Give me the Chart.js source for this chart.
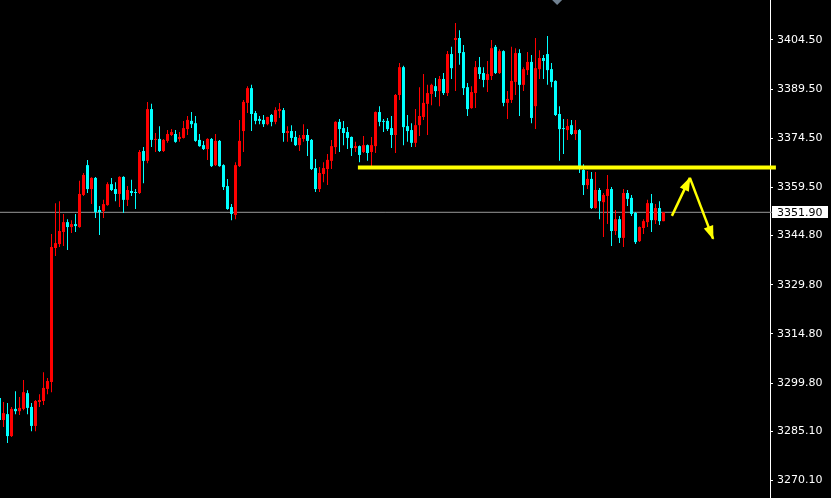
<!DOCTYPE html>
<html>
<head>
<meta charset="utf-8">
<script src="https://cdn.jsdelivr.net/npm/chart.js@4.4.0/dist/chart.umd.min.js"></script>
<style>
html, body { margin: 0; padding: 0; background: #000; }
#wrap { width: 831px; height: 498px; position: relative; }
</style>
</head>
<body>
<div id="wrap"><canvas id="chart"></canvas></div>
<script>
// свечи (старые -> новые)
const opens = [3295.2,3288.5,3290.3,3283.6,3291.9,3291.2,3291.9,3296.7,3292.5,3286.7,3294.0,3294.3,3298.0,3300.1,3341.0,3342.2,3345.9,3348.9,3347.4,3348.3,
3347.4,3357.2,3366.3,3359.0,3362.4,3352.6,3352.3,3354.1,3360.5,3359.0,3357.5,3362.7,3355.7,3358.4,3358.1,3357.8,3370.6,3367.6,3383.4,3374.0,
3374.3,3370.6,3373.7,3375.5,3375.8,3374.3,3374.6,3377.3,3379.8,3379.1,3374.0,3372.4,3371.2,3374.3,3366.3,3373.7,3366.3,3359.9,3353.5,3351.1,
3366.0,3376.7,3385.3,3389.8,3382.2,3380.4,3380.1,3378.8,3381.6,3379.5,3382.8,3383.1,3376.1,3376.7,3374.9,3372.4,3374.3,3375.5,3374.0,3365.4,
3359.0,3363.6,3365.1,3367.6,3371.8,3379.5,3377.6,3376.4,3374.9,3371.5,3372.1,3370.3,3372.4,3370.3,3372.1,3382.5,3379.8,3379.8,3377.6,3375.5,
3387.7,3396.2,3378.2,3377.0,3373.1,3378.5,3381.0,3385.0,3388.0,3390.4,3388.9,3392.6,3388.3,3400.2,3404.5,3405.1,3400.8,3390.1,3383.7,3388.3,
3396.2,3394.4,3392.3,3393.5,3402.4,3394.4,3401.1,3385.3,3386.2,3391.7,3400.5,3390.8,3395.3,3397.8,3384.3,3395.6,3399.0,3400.2,3395.6,3392.0,
3381.9,3377.6,3377.0,3378.5,3375.8,3377.0,3364.8,3360.2,3362.1,3353.2,3358.7,3355.0,3356.9,3359.0,3346.2,3349.8,3344.1,3357.8,3356.3,3351.7,
3343.1,3347.1,3348.9,3354.7,3349.5,3353.2,3349.2];
const highs = [3296.1,3294.0,3293.7,3292.5,3297.3,3295.5,3300.7,3297.6,3293.7,3294.6,3296.4,3303.1,3301.3,3345.3,3354.7,3355.3,3351.4,3349.8,3349.5,3351.4,
3361.5,3363.9,3367.9,3362.6,3362.7,3353.8,3355.7,3361.1,3362.4,3361.1,3362.9,3362.9,3359.9,3361.8,3359.0,3370.9,3371.8,3385.6,3385.0,3376.1,
3378.2,3374.3,3377.0,3377.3,3377.0,3376.4,3379.8,3381.3,3382.5,3381.3,3375.8,3373.7,3374.5,3374.6,3375.8,3374.0,3366.6,3362.1,3354.4,3367.2,
3380.1,3386.2,3390.4,3390.8,3382.8,3381.3,3381.6,3381.1,3381.9,3384.0,3385.3,3383.7,3378.2,3378.5,3376.7,3375.5,3378.8,3377.3,3374.3,3368.2,
3365.7,3367.2,3369.7,3374.0,3379.7,3380.4,3379.8,3377.9,3375.0,3373.4,3372.3,3375.2,3372.6,3374.9,3382.7,3384.3,3380.4,3380.7,3381.3,3388.0,
3397.5,3396.6,3381.6,3379.1,3383.4,3390.1,3394.1,3390.8,3391.1,3392.9,3393.5,3394.4,3401.1,3402.4,3409.7,3407.5,3403.0,3391.4,3390.4,3398.1,
3399.3,3396.2,3398.1,3404.5,3403.0,3401.7,3401.4,3388.9,3402.4,3402.0,3401.7,3396.2,3400.8,3399.9,3405.1,3401.4,3399.9,3405.7,3397.5,3392.2,
3384.3,3380.4,3380.4,3380.1,3380.1,3377.3,3366.6,3364.5,3364.2,3364.2,3359.3,3357.8,3363.3,3359.6,3352.6,3350.8,3359.0,3358.7,3357.2,3352.0,
3347.6,3349.8,3355.7,3357.5,3354.4,3355.3,3351.9];
const lows = [3287.9,3286.4,3281.5,3283.3,3290.3,3290.0,3291.5,3290.3,3285.1,3285.1,3292.5,3293.1,3296.4,3297.0,3338.6,3341.3,3341.6,3340.4,3345.6,3345.9,
3347.2,3356.9,3357.8,3354.4,3350.2,3345.0,3350.2,3353.9,3358.4,3355.3,3353.5,3351.7,3353.8,3356.9,3352.9,3357.5,3360.8,3366.9,3371.8,3370.3,
3370.3,3370.3,3373.1,3375.2,3373.1,3373.4,3374.4,3375.5,3377.6,3373.4,3371.9,3370.9,3367.9,3365.7,3366.0,3365.8,3358.7,3352.7,3349.5,3349.8,
3365.7,3370.3,3382.2,3376.7,3378.8,3378.8,3377.9,3378.5,3378.2,3378.8,3380.7,3373.4,3373.4,3373.4,3372.1,3370.6,3373.4,3369.1,3364.8,3358.1,
3358.1,3361.1,3360.2,3365.1,3369.7,3370.3,3372.4,3371.2,3369.1,3370.3,3367.2,3370.0,3367.6,3365.7,3370.0,3378.2,3376.4,3376.7,3371.5,3370.0,
3386.2,3372.4,3373.4,3371.8,3371.8,3375.2,3380.1,3375.5,3384.6,3387.1,3384.3,3387.7,3387.4,3392.6,3388.9,3396.9,3387.7,3381.3,3383.5,3383.7,
3392.6,3390.1,3388.6,3392.3,3394.1,3394.1,3384.3,3380.4,3385.3,3387.7,3381.3,3388.9,3393.8,3379.1,3377.3,3392.6,3392.6,3390.8,3390.1,3381.3,
3367.6,3369.7,3374.0,3375.5,3374.0,3363.9,3357.2,3359.0,3352.9,3353.0,3349.8,3344.4,3348.3,3341.6,3345.0,3342.5,3341.3,3353.8,3350.8,3342.2,
3342.8,3345.3,3347.4,3345.9,3348.3,3348.0,3349.2];
const closes = [3288.5,3290.6,3283.6,3291.9,3291.2,3292.2,3297.0,3292.2,3286.7,3294.3,3294.6,3298.3,3300.4,3341.3,3342.5,3346.2,3348.9,3347.4,3348.3,3347.7,
3357.5,3363.3,3359.0,3362.4,3352.0,3352.0,3354.4,3360.5,3358.7,3357.5,3362.7,3355.7,3358.7,3357.8,3357.8,3370.3,3367.6,3383.4,3374.0,3374.3,
3370.6,3374.0,3375.8,3376.4,3373.4,3374.9,3377.6,3380.1,3378.8,3373.7,3372.1,3371.2,3374.3,3366.0,3373.7,3366.0,3359.6,3352.9,3351.4,3366.3,
3373.7,3385.6,3389.8,3381.9,3379.8,3379.8,3378.8,3381.0,3379.5,3383.1,3383.4,3376.1,3376.7,3374.6,3372.4,3374.6,3375.5,3373.7,3365.1,3359.0,
3363.9,3365.4,3367.9,3372.1,3379.5,3377.3,3376.1,3374.6,3371.5,3372.1,3369.4,3372.4,3370.0,3372.4,3382.5,3379.5,3379.5,3377.3,3375.5,3387.7,
3396.2,3377.9,3376.7,3373.1,3378.5,3381.3,3385.3,3388.3,3390.8,3388.9,3392.6,3388.3,3400.2,3395.9,3405.1,3400.5,3389.8,3383.4,3388.6,3396.2,
3394.1,3392.3,3394.1,3402.0,3394.4,3401.1,3385.3,3386.5,3392.0,3400.5,3390.8,3395.6,3397.8,3380.7,3395.9,3399.0,3398.1,3395.3,3391.7,3381.6,
3377.3,3377.3,3378.2,3375.8,3377.0,3366.0,3360.2,3362.1,3353.2,3358.7,3355.3,3357.2,3359.0,3346.2,3349.8,3344.1,3357.8,3356.0,3351.4,3342.8,
3347.4,3349.2,3354.7,3349.5,3353.2,3349.2,3351.9];

// шкала цен
const priceTicks = [3404.5, 3389.5, 3374.5, 3359.5, 3344.8, 3329.8, 3314.8, 3299.8, 3285.1, 3270.1];

// разметка: уровень и стрелки (индекс бара, цена)
const levelIdx = [89.6, 194.1];
const levelPrice = [3365.6, 3365.6];
const arrowUpIdx = [168.1, 172.6];
const arrowUpPrice = [3350.8, 3362.4];
const arrowDownIdx = [172.6, 178.4];
const arrowDownPrice = [3362.4, 3343.8];
const shiftMarkIdx = 139.4;

const UP = '#ff0000';
const DOWN = '#00ffff';
const candleColors = opens.map((o, i) => closes[i] >= o ? UP : DOWN);
const lastPrice = closes[closes.length - 1];

const wickData = highs.map((h, i) => ({ x: i, y: [lows[i], h] }));
const bodyData = opens.map((o, i) => ({ x: i, y: [o, closes[i]] }));
const pairs = (xs, ys) => xs.map((x, i) => ({ x: x, y: ys[i] }));

const overlay = {
    id: 'overlay',
    afterDatasetsDraw(chart) {
        const ctx = chart.ctx;
        const xs = chart.scales.x, ys = chart.scales.y;
        // наконечники стрелок
        chart.data.datasets.forEach((ds, i) => {
            if (!ds.arrow) return;
            const pts = chart.getDatasetMeta(i).data;
            const a = pts[pts.length - 2], b = pts[pts.length - 1];
            const ang = Math.atan2(b.y - a.y, b.x - a.x);
            ctx.save();
            ctx.fillStyle = ds.borderColor;
            ctx.translate(b.x, b.y);
            ctx.rotate(ang);
            ctx.beginPath();
            ctx.moveTo(1, 0);
            ctx.lineTo(-13, -5);
            ctx.lineTo(-13, 5);
            ctx.closePath();
            ctx.fill();
            ctx.restore();
        });
        // маркер сдвига графика
        const mx = xs.getPixelForValue(shiftMarkIdx);
        ctx.save();
        ctx.fillStyle = '#708090';
        ctx.beginPath();
        ctx.moveTo(mx - 5, 0);
        ctx.lineTo(mx + 5, 0);
        ctx.lineTo(mx, 5);
        ctx.closePath();
        ctx.fill();
        // метка последней цены
        const y = ys.getPixelForValue(lastPrice);
        ctx.fillStyle = '#ffffff';
        ctx.fillRect(ys.left + 2, Math.round(y) - 6, 56, 12);
        ctx.fillStyle = '#000000';
        ctx.font = '11px "DejaVu Sans"';
        ctx.textBaseline = 'middle';
        ctx.fillText(lastPrice.toFixed(2), ys.left + 7, y + 0.5);
        ctx.restore();
    }
};

new Chart(document.getElementById('chart'), {
    type: 'bar',
    data: {
        datasets: [{
            type: 'line',
            data: pairs(levelIdx, levelPrice),
            borderColor: '#ffff00',
            borderWidth: 4,
            pointRadius: 0,
            clip: false
        }, {
            type: 'line',
            arrow: true,
            data: pairs(arrowUpIdx, arrowUpPrice),
            borderColor: '#ffff00',
            borderWidth: 2.5,
            pointRadius: 0,
            clip: false
        }, {
            type: 'line',
            arrow: true,
            data: pairs(arrowDownIdx, arrowDownPrice),
            borderColor: '#ffff00',
            borderWidth: 2.5,
            pointRadius: 0,
            clip: false
        }, {
            data: bodyData,
            backgroundColor: candleColors,
            barThickness: 3,
            minBarLength: 1,
            grouped: false,
            inflateAmount: 0,
            borderWidth: 0
        }, {
            data: wickData,
            backgroundColor: candleColors,
            barThickness: 1,
            grouped: false,
            inflateAmount: 0,
            borderWidth: 0
        }, {
            type: 'line',
            data: [{ x: 0.125, y: lastPrice }, { x: 193.1, y: lastPrice }],
            borderColor: '#9a9a9a',
            borderWidth: 1,
            pointRadius: 0,
            clip: false
        }]
    },
    options: {
        responsive: true,
        maintainAspectRatio: false,
        devicePixelRatio: 1,
        animation: false,
        events: [],
        layout: { padding: 0 },
        plugins: {
            legend: { display: false },
            tooltip: { enabled: false }
        },
        scales: {
            x: {
                type: 'linear',
                display: false,
                offset: false,
                min: 0.125,
                max: 192.625
            },
            y: {
                position: 'right',
                min: 3264.7,
                max: 3416.7,
                afterBuildTicks: (scale) => {
                    scale.ticks = priceTicks.map(v => ({ value: v }));
                },
                afterFit: (scale) => {
                    scale.width = 61;
                    scale.paddingTop = 0;
                    scale.paddingBottom = 0;
                },
                border: { display: true, color: '#ffffff', width: 1 },
                grid: { drawOnChartArea: false, drawTicks: true, tickLength: 3, color: '#ffffff' },
                ticks: {
                    color: '#ffffff',
                    padding: 4,
                    font: { family: 'DejaVu Sans', size: 11 },
                    callback: (v) => Number(v).toFixed(2)
                }
            }
        }
    },
    plugins: [overlay]
});
</script>
</body>
</html>
